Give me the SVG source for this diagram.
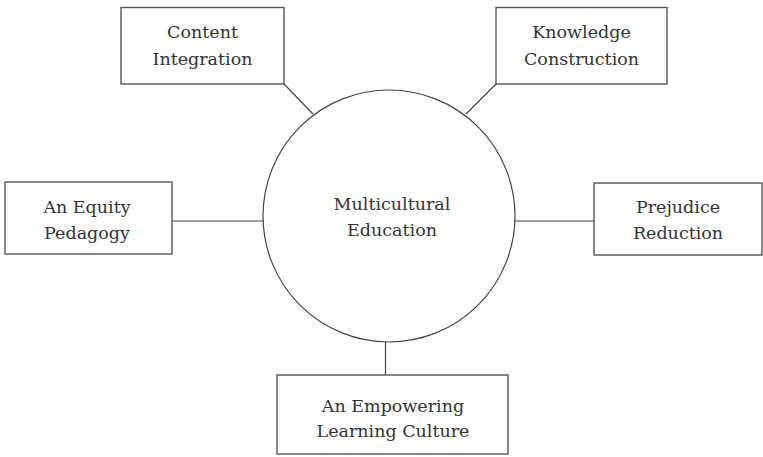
<svg xmlns="http://www.w3.org/2000/svg" width="763" height="457" viewBox="0 0 763 457">
<style>
.box{fill:#fff;stroke:#555;stroke-width:1.4}
.ln{stroke:#444;stroke-width:1.2;fill:none}
text{font-family:"DejaVu Serif","Liberation Serif",serif;font-size:17.5px;fill:#333;text-anchor:middle}
</style>
<rect width="763" height="457" fill="#fff"/>
<g id="connectors">
<line class="ln" x1="284" y1="84" x2="313" y2="114"/>
<line class="ln" x1="496" y1="84" x2="466" y2="114"/>
<line class="ln" x1="172" y1="221" x2="263" y2="221"/>
<line class="ln" x1="515" y1="221" x2="594" y2="221"/>
<line class="ln" x1="385.5" y1="342" x2="385.5" y2="375"/>
</g>
<g id="center">
<circle class="ln" cx="389" cy="216" r="126"/>
<text x="392" y="210">Multicultural</text>
<text x="392" y="236">Education</text>
</g>
<g id="content-integration">
<rect class="box" x="121" y="7.5" width="163" height="76.5"/>
<text x="202.5" y="37.5">Content</text>
<text x="202.5" y="64.5">Integration</text>
</g>
<g id="knowledge-construction">
<rect class="box" x="496" y="7.5" width="171" height="76.5"/>
<text x="581.5" y="37.5">Knowledge</text>
<text x="581.5" y="64.5">Construction</text>
</g>
<g id="equity-pedagogy">
<rect class="box" x="5" y="182" width="167" height="72"/>
<text x="87" y="213">An Equity</text>
<text x="87" y="239">Pedagogy</text>
</g>
<g id="prejudice-reduction">
<rect class="box" x="594" y="183" width="168" height="72"/>
<text x="678" y="213">Prejudice</text>
<text x="678" y="239">Reduction</text>
</g>
<g id="empowering-culture">
<rect class="box" x="277" y="375" width="231" height="79"/>
<text x="393" y="411.5">An Empowering</text>
<text x="393" y="436.5">Learning Culture</text>
</g>
</svg>
